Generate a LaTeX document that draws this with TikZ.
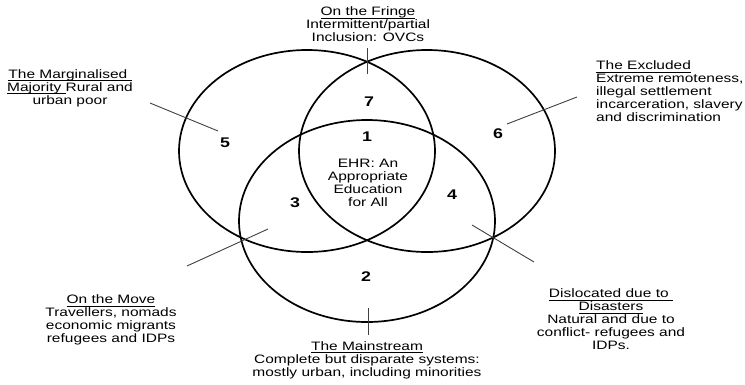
\documentclass[tikz,border=0pt]{standalone}
\usepackage{fontspec}
\setmainfont{Liberation Sans}[FakeStretch=1.27]
\usetikzlibrary{shapes.geometric}
\newcommand\ulhead[1]{\setbox0\hbox{#1}\rlap{\rule[-3.1bp]{\wd0}{0.95bp}}\box0}
\tikzset{
  ring/.style={ellipse,draw=black,line width=1.7bp,minimum width=256bp,minimum height=202bp,inner sep=0pt},
  num/.style={font=\fontsize{14bp}{16bp}\selectfont\bfseries,inner sep=0pt},
  grp/.style={font=\fontsize{12.2bp}{13bp}\selectfont,align=center,inner sep=0pt},
  lead/.style={draw=black!75,line width=0.9bp},
}

\begin{document}
\begin{tikzpicture}[x=1bp,y=-1bp]
  \useasboundingbox (0,0) rectangle (745,384);
  % three rings
  \node[ring] (rmarg) at (307,151) {};
  \node[ring] (rexcl) at (427,151) {};
  \node[ring] (rmain) at (367,221) {};
  % region numbers
  \node[num] (n1) at (367,137) {1};
  \node[num] (n2) at (366,277) {2};
  \node[num] (n3) at (295,203) {3};
  \node[num] (n4) at (452,195) {4};
  \node[num] (n5) at (225,143) {5};
  \node[num] (n6) at (498,134) {6};
  \node[num] (n7) at (369,102) {7};
  \node[grp] (ehr) at (368,183) {EHR: An\\Appropriate\\Education\\for All};
  % group texts
  \node[grp] (tfringe) at (368,24) {\ulhead{On the Fringe}\\Intermittent/partial\\Inclusion: OVCs};
  \node[grp] (tmarg) at (70,88) {\ulhead{The Marginalised\ }\\\ulhead{Majority\ }Rural and\\urban poor};
  \node[grp,align=left,anchor=west] (texcl) at (596,91) {\ulhead{The Excluded}\\Extreme remoteness,\\illegal settlement\\incarceration, slavery\\and discrimination};
  \node[grp] (tmove) at (111,320) {\ulhead{On the Move}\\Travellers, nomads\\economic migrants\\refugees and IDPs};
  \node[grp] (tdisl) at (611,319) {\ulhead{Dislocated due to\ }\\\ulhead{Disasters}\\Natural and due to\\conflict- refugees and\\IDPs.};
  \node[grp] (tmain) at (367,360) {\ulhead{The Mainstream}\\Complete but disparate systems:\\mostly urban, including minorities};
  % leader ticks
  \coordinate (kf1) at (367,48);  \coordinate (kf2) at (367,74);
  \coordinate (km1) at (368,308); \coordinate (km2) at (368,335);
  \coordinate (k5a) at (150,103); \coordinate (k5b) at (218,131);
  \coordinate (k3a) at (187,266); \coordinate (k3b) at (268,229);
  \coordinate (k6a) at (507,124); \coordinate (k6b) at (577,97);
  \coordinate (k4a) at (472,225); \coordinate (k4b) at (534,262);
  \draw[lead] (kf1)--(kf2); \draw[lead] (km1)--(km2);
  \draw[lead] (k5a)--(k5b); \draw[lead] (k3a)--(k3b);
  \draw[lead] (k6a)--(k6b); \draw[lead] (k4a)--(k4b);
\end{tikzpicture}
\end{document}
